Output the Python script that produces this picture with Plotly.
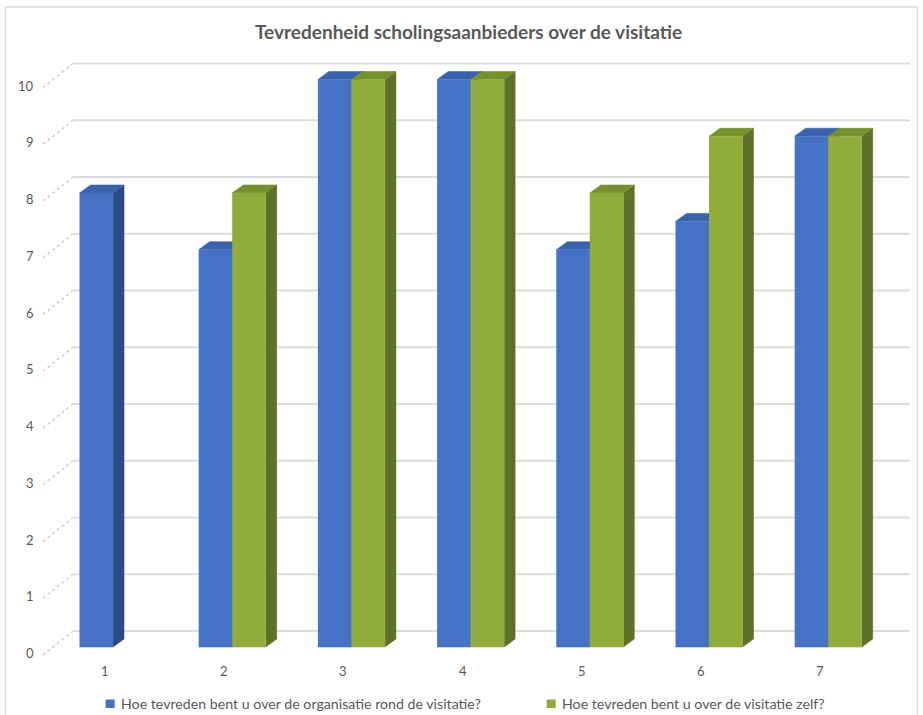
import plotly.graph_objects as go

# ---- data -------------------------------------------------------------
categories = ["1", "2", "3", "4", "5", "6", "7"]
organisatie = [8, 7, 10, 10, 7, 7.5, 9]            # Hoe tevreden ... organisatie rond de visitatie?
visitatie_zelf = [None, 8, 10, 10, 8, 9, 9]         # Hoe tevreden ... visitatie zelf?
value_ticks = list(range(0, 11))
series_names = [
    "Hoe tevreden bent u over de organisatie rond de visitatie?",
    "Hoe tevreden bent u over de visitatie zelf?",
]
title_text = "Tevredenheid scholingsaanbieders over de visitatie"

# ---- geometry of the pseudo-3D view ------------------------------------
W, H = 923, 715
X_ORIGIN, X_STEP = 113.0, 119.2     # pixel of category 1 group centre, pixels per category
Y_ORIGIN, Y_STEP = 647.0, 56.75     # pixel of value 0 at bar front, pixels per unit
x_range = [1 + (0 - X_ORIGIN) / X_STEP, 1 + (W - X_ORIGIN) / X_STEP]
y_range = [(Y_ORIGIN - H) / Y_STEP, Y_ORIGIN / Y_STEP]

BAR_W = 33.5 / X_STEP               # bar width in category units
DX, DY = 11 / X_STEP, 8 / Y_STEP    # bar depth offset
WALL_DY = 16 / Y_STEP               # back wall lies behind the bars
WALL_X0 = 1 + (73 - X_ORIGIN) / X_STEP
WALL_X1 = 1 + (910 - X_ORIGIN) / X_STEP
FLOOR_X0 = 1 + (43 - X_ORIGIN) / X_STEP
FLOOR_DY = 8 / Y_STEP

TEXT = "#595959"
FONT = "Lato"

styles = [
    dict(front="#4472C4", side="#2C4A82", top="#3A62AD"),
    dict(front="#92AC3C", side="#5E7128", top="#77902F"),
]


def px_to_paper(px, py):
    return px / W, 1 - py / H


def add_poly(xs, ys, pts):
    for x, y in pts:
        xs.append(x)
        ys.append(y)
    xs.append(None)
    ys.append(None)


fig = go.Figure()

# back wall gridlines and floor hatches
gx, gy, hx, hy = [], [], [], []
for v in value_ticks:
    gx += [WALL_X0, WALL_X1, None]
    gy += [v + WALL_DY, v + WALL_DY, None]
    hx += [FLOOR_X0, WALL_X0, None]
    hy += [v - FLOOR_DY, v + WALL_DY, None]
fig.add_trace(go.Scatter(x=gx, y=gy, mode="lines", line=dict(color="#DDDDDD", width=2),
                         hoverinfo="skip", showlegend=False))
fig.add_trace(go.Scatter(x=hx, y=hy, mode="lines", line=dict(color="#D0D0D0", width=1.6, dash="dot"),
                         hoverinfo="skip", showlegend=False))

# bars: front, side and top faces per series
for s, values in enumerate([organisatie, visitatie_zelf]):
    faces = {"front": ([], []), "side": ([], []), "top": ([], [])}
    for i, v in enumerate(values):
        if v is None or v == 0:
            continue
        c = i + 1
        xl = c - BAR_W if s == 0 else c
        xr = xl + BAR_W
        add_poly(*faces["front"], [(xl, 0), (xr, 0), (xr, v), (xl, v)])
        add_poly(*faces["side"], [(xr, 0), (xr + DX, DY), (xr + DX, v + DY), (xr, v)])
        add_poly(*faces["top"], [(xl, v), (xl + DX, v + DY), (xr + DX, v + DY), (xr, v)])
    for face in ["side", "top", "front"]:
        xs, ys = faces[face]
        col = styles[s][face]
        fig.add_trace(go.Scatter(x=xs, y=ys, mode="lines", fill="toself", fillcolor=col,
                                 line=dict(color=col, width=0.6), hoverinfo="skip",
                                 showlegend=False, name=series_names[s]))

annotations = []
shapes = []

# value axis labels
for v in value_ticks:
    annotations.append(dict(x=1 + (36 - X_ORIGIN) / X_STEP, y=v - 6 / Y_STEP, xref="x", yref="y",
                            text=str(v), showarrow=False, xanchor="right", yanchor="middle",
                            font=dict(family=FONT, size=13, color=TEXT)))

# category labels
for i, cat in enumerate(categories):
    annotations.append(dict(x=i + 1 - 8 / X_STEP, y=-24 / Y_STEP, xref="x", yref="y",
                            text=cat, showarrow=False, xanchor="center", yanchor="middle",
                            font=dict(family=FONT, size=13, color=TEXT)))

# title
tx, ty = px_to_paper(468.5, 32)
annotations.append(dict(x=tx, y=ty, xref="paper", yref="paper", text="<b>%s</b>" % title_text,
                        showarrow=False, xanchor="center", yanchor="middle",
                        font=dict(family=FONT, size=19, color=TEXT)))

# legend
legend_items = [(105.7, 118.5), (546.7, 559.5)]
for s, (sq_x, txt_x) in enumerate(legend_items):
    x0, y0 = px_to_paper(sq_x, 708)
    x1, y1 = px_to_paper(sq_x + 9, 699.5)
    shapes.append(dict(type="rect", xref="paper", yref="paper", x0=x0, y0=y0, x1=x1, y1=y1,
                       fillcolor=styles[s]["front"], line=dict(width=0)))
    lx, ly = px_to_paper(txt_x, 703.5)
    annotations.append(dict(x=lx, y=ly, xref="paper", yref="paper", text=series_names[s],
                            showarrow=False, xanchor="left", yanchor="middle",
                            font=dict(family=FONT, size=14.2, color=TEXT)))

# chart border
bx0, by0 = px_to_paper(5.5, 740)
bx1, by1 = px_to_paper(917.5, 7)
shapes.append(dict(type="rect", xref="paper", yref="paper", x0=bx0, y0=by0, x1=bx1, y1=by1,
                   line=dict(color="#D9D9D9", width=1.5), fillcolor="rgba(0,0,0,0)", layer="below"))

fig.update_layout(
    width=W, height=H, autosize=False,
    margin=dict(l=0, r=0, t=0, b=0),
    paper_bgcolor="white", plot_bgcolor="white",
    xaxis=dict(range=x_range, visible=False, fixedrange=True),
    yaxis=dict(range=y_range, visible=False, fixedrange=True),
    annotations=annotations, shapes=shapes, showlegend=False,
)

fig.write_html("out.html")
